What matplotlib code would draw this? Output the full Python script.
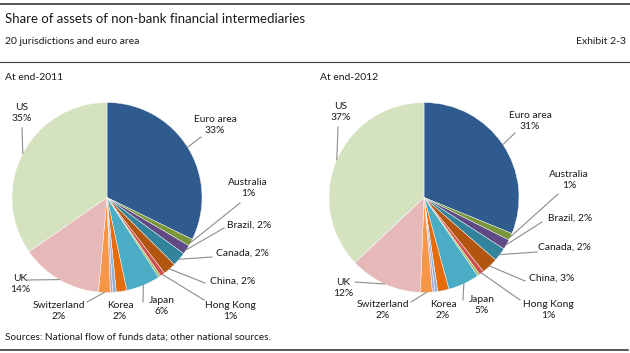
import matplotlib
matplotlib.use("Agg")
import matplotlib.pyplot as plt
import numpy as np

plt.rcParams['font.family'] = ['Lato', 'DejaVu Sans']

W, H = 630, 353

countries = ["Euro area", "Australia", "Brazil", "Canada", "China", "Hong Kong", "India",
             "Japan", "Korea", "Mexico", "Singapore", "Switzerland", "UK", "US"]
share_2011 = [32.3, 1.2, 1.6, 2.4, 2.2, 0.8, 0.4, 5.8, 1.8, 0.6, 0.4, 2.0, 13.9, 34.7]
share_2012 = [31.0, 1.2, 1.7, 2.3, 2.8, 0.8, 0.4, 5.3, 1.9, 0.5, 0.4, 2.0, 12.3, 36.8]
labels_2011 = ["Euro area\n33%", "Australia\n1%", "Brazil, 2%", "Canada, 2%", "China, 2%", "Hong Kong\n1%", None,
               "Japan\n6%", "Korea\n2%", None, None, "Switzerland\n2%", "UK\n14%", "US\n35%"]
labels_2012 = ["Euro area\n31%", "Australia\n1%", "Brazil, 2%", "Canada, 2%", "China, 3%", "Hong Kong\n1%", None,
               "Japan\n5%", "Korea\n2%", None, None, "Switzerland\n2%", "UK\n12%", "US\n37%"]

colors = ["#2F5B8E", "#79973A", "#5F4A84", "#31849B", "#B2550F", "#D0504D", "#9BBB59",
          "#4BACC6", "#E46C0A", "#95B3D7", "#B3A2C7", "#F79646", "#E6B9B8", "#D5E2C0"]

# label centres and leader-line ends, in pixels
label_pos_2011 = {"Euro area": (215, 125), "Australia": (248, 188), "Brazil": (249, 225),
                  "Canada": (243, 253), "China": (233, 281), "Hong Kong": (230, 311),
                  "Japan": (162, 306), "Korea": (120, 311), "Switzerland": (59, 311),
                  "UK": (20, 284), "US": (22, 113)}
leader_2011 = {"Euro area": (201, 137), "Australia": (240, 203), "Brazil": (224, 228),
               "Canada": (212, 257), "China": (205, 283), "Hong Kong": (204, 300),
               "Japan": (143, 302), "Switzerland": (87, 302), "UK": (27, 280), "US": (22, 128)}
label_pos_2012 = {"Euro area": (530, 121), "Australia": (569, 180), "Brazil": (570, 218),
                  "Canada": (565, 247), "China": (552, 278), "Hong Kong": (548, 310),
                  "Japan": (482, 305), "Korea": (443, 310), "Switzerland": (383, 310),
                  "UK": (343, 288), "US": (341, 112)}
leader_2012 = {"Euro area": (515, 133), "Australia": (558, 194), "Brazil": (542, 222),
               "Canada": (537, 252), "China": (525, 281), "Hong Kong": (520, 300),
               "Japan": (463, 300), "Switzerland": (411, 302), "UK": (355, 282), "US": (338, 127)}

LABEL_SIZE = 7.4
LINE_COLOR = "#8C8C8C"
RADIUS = 95


def draw_pie(fig, cx, cy, values, labels, label_pos, leaders):
    ax = fig.add_axes([(cx - RADIUS) / W, 1 - (cy + RADIUS) / H, 2 * RADIUS / W, 2 * RADIUS / H])
    wedges, _ = ax.pie(values, colors=colors, startangle=90, counterclock=False, radius=1,
                       wedgeprops=dict(edgecolor="white", linewidth=0.3))
    ax.set_xlim(-1, 1)
    ax.set_ylim(-1, 1)
    ax.axis("off")
    for name, lab, w in zip(countries, labels, wedges):
        if lab is None:
            continue
        px, py = label_pos[name]
        ax.text((px - cx) / RADIUS, (cy - py) / RADIUS, lab, ha="center", va="center",
                fontsize=LABEL_SIZE, color="#1a1a1a", linespacing=1.35, clip_on=False)
        if name in leaders:
            ang = np.deg2rad((w.theta1 + w.theta2) / 2)
            ex, ey = np.cos(ang), np.sin(ang)
            lx, ly = leaders[name]
            ax.plot([ex, (lx - cx) / RADIUS], [ey, (cy - ly) / RADIUS], color=LINE_COLOR,
                    lw=0.8, clip_on=False)
    return ax


fig = plt.figure(figsize=(W / 100, H / 100), dpi=100)


def ftext(px, py, s, **kw):
    fig.text(px / W, 1 - py / H, s, va="center", color="#1a1a1a", **kw)


def hline(py, x0, x1, lw):
    fig.add_artist(plt.Line2D([x0 / W, x1 / W], [1 - py / H, 1 - py / H], color="#3c3c3c", lw=lw))


hline(4, 0, 630, 1.2)
hline(62, 0, 630, 0.8)
hline(350, 0, 628, 1.2)

ftext(5, 19, "Share of assets of non-bank financial intermediaries", fontsize=9.5)
ftext(5, 41, "20 jurisdictions and euro area", fontsize=7.5)
ftext(626, 41, "Exhibit 2-3", fontsize=7.5, ha="right")
ftext(5, 77, "At end-2011", fontsize=7.5)
ftext(320, 77, "At end-2012", fontsize=7.5)
ftext(5, 337, "Sources: National flow of funds data; other national sources.", fontsize=7.2)

draw_pie(fig, 107, 197.5, share_2011, labels_2011, label_pos_2011, leader_2011)
draw_pie(fig, 424, 197.5, share_2012, labels_2012, label_pos_2012, leader_2012)

fig.savefig("out.png", dpi=100)
